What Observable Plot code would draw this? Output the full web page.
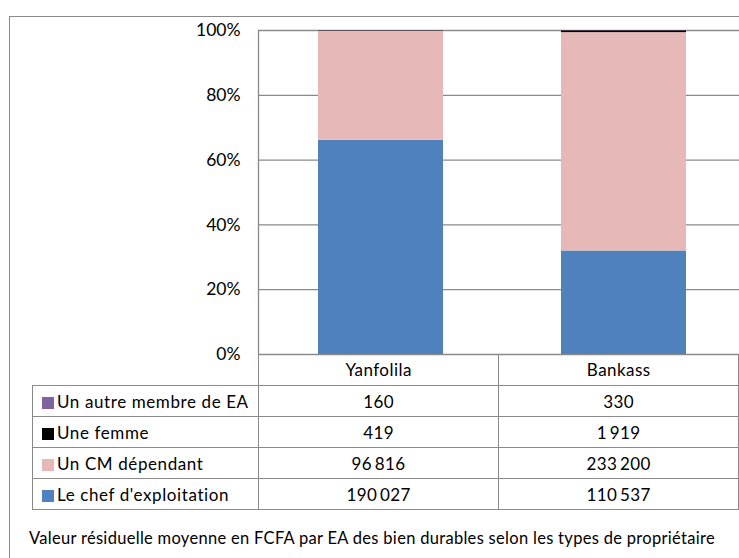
<!DOCTYPE html>
<html>
<head>
<meta charset="utf-8">
<script src="https://cdn.jsdelivr.net/npm/d3@7"></script>
<script src="https://cdn.jsdelivr.net/npm/@observablehq/plot@0.6"></script>
<style>
  html, body { margin: 0; padding: 0; background: #fff; overflow: hidden; width: 739px; height: 558px; }
  #wrap { position: relative; width: 739px; height: 558px; font-family: Lato, "Open Sans", sans-serif; overflow: hidden; }
  #outer { position: absolute; left: 9px; top: 16px; width: 900px; height: 900px; border-left: 1.5px solid #8a8a8a; border-top: 1.5px solid #8a8a8a; }
  #chart { position: absolute; left: 0; top: 0; width: 760px; }
  #chart svg { max-width: none !important; }
  #tbl { position: absolute; left: 32px; top: 354px; border-collapse: collapse; font-size: 17px; letter-spacing: 0.45px; color: #000; }
  #tbl td { border: 1.5px solid #8a8a8a; padding: 0; text-align: center; height: 30px; }
  #tbl td.lab { text-align: left; padding-left: 9px; white-space: nowrap; letter-spacing: 0.6px; }
  #tbl tr.head td { border-top: none; }
  #tbl tr.head td.blank { border: none; border-right: 1.5px solid #8a8a8a; }
  .sw { display: inline-block; width: 12px; height: 12px; margin-right: 3px; vertical-align: -1px; }
  #caption { position: absolute; left: 29px; top: 528px; font-size: 16.5px; letter-spacing: 0.3px; white-space: nowrap; }
</style>
</head>
<body>
<div id="wrap">
  <div id="outer"></div>
  <table id="tbl"></table>
  <div id="chart"></div>
  <div id="caption"></div>
</div>
<script>
// ---- data ----
const categories = ["Yanfolila", "Bankass"];
const series = ["Le chef d'exploitation", "Un CM dépendant", "Une femme", "Un autre membre de EA"];
const chefValues = [190027, 110537];
const cmValues = [96816, 233200];
const femmeValues = [419, 1919];
const autreValues = [160, 330];
const seriesColors = ["#4F81BD", "#E6B9B8", "#000000", "#8064A2"];
const yTicks = [0, 0.2, 0.4, 0.6, 0.8, 1];
const captionText = "Valeur résiduelle moyenne en FCFA par EA des bien durables selon les types de propriétaire";

const valuesBySeries = [chefValues, cmValues, femmeValues, autreValues];
const rows = [];
series.forEach((s, i) => categories.forEach((c, j) => rows.push({cat: c, series: s, value: valuesBySeries[i][j]})));

const line = "#8a8a8a";
const chart = Plot.plot({
  width: 760,
  height: 356,
  marginLeft: 258,
  marginRight: 15,
  marginTop: 30,
  marginBottom: 2,
  style: {background: "transparent", overflow: "visible", maxWidth: "none", fontFamily: "Lato, 'Open Sans', sans-serif"},
  x: {domain: categories, paddingInner: 0.487, paddingOuter: 0.2435, axis: null},
  y: {domain: [0, 1]},
  color: {domain: series, range: seriesColors},
  marks: [
    Plot.gridY(yTicks, {stroke: line, strokeOpacity: 1, strokeWidth: 1.3}),
    Plot.barY(rows, {x: "cat", y: "value", fill: "series", offset: "normalize", order: series}),
    Plot.frame({anchor: "left", stroke: line, strokeWidth: 1.3}),
    Plot.axisY(yTicks, {tickFormat: d3.format(".0%"), tickSize: 0, tickPadding: 18, fontSize: 17.5, fill: "#000", label: null})
  ]
});
chart.style.maxWidth = "none";
document.getElementById("chart").appendChild(chart);

// ---- data table under the chart ----
const fmt = d3.formatLocale({decimal: ",", thousands: "\u2009", grouping: [3], currency: ["", ""]}).format(",d");
const tbl = document.getElementById("tbl");
const colgroup = document.createElement("colgroup");
[226, 244, 243].forEach(w => { const c = document.createElement("col"); c.style.width = w + "px"; colgroup.appendChild(c); });
tbl.appendChild(colgroup);
const head = document.createElement("tr");
head.className = "head";
const blank = document.createElement("td"); blank.className = "blank"; head.appendChild(blank);
categories.forEach(c => { const td = document.createElement("td"); td.textContent = c; head.appendChild(td); });
head.children[0].style.height = "31px";
tbl.appendChild(head);
for (let i = series.length - 1; i >= 0; i--) {
  const tr = document.createElement("tr");
  const lab = document.createElement("td");
  lab.className = "lab";
  const sw = document.createElement("span");
  sw.className = "sw";
  sw.style.background = seriesColors[i];
  lab.appendChild(sw);
  lab.appendChild(document.createTextNode(series[i]));
  tr.appendChild(lab);
  valuesBySeries[i].forEach(v => { const td = document.createElement("td"); td.textContent = fmt(v); tr.appendChild(td); });
  tbl.appendChild(tr);
}
document.getElementById("caption").textContent = captionText;
</script>
</body>
</html>
